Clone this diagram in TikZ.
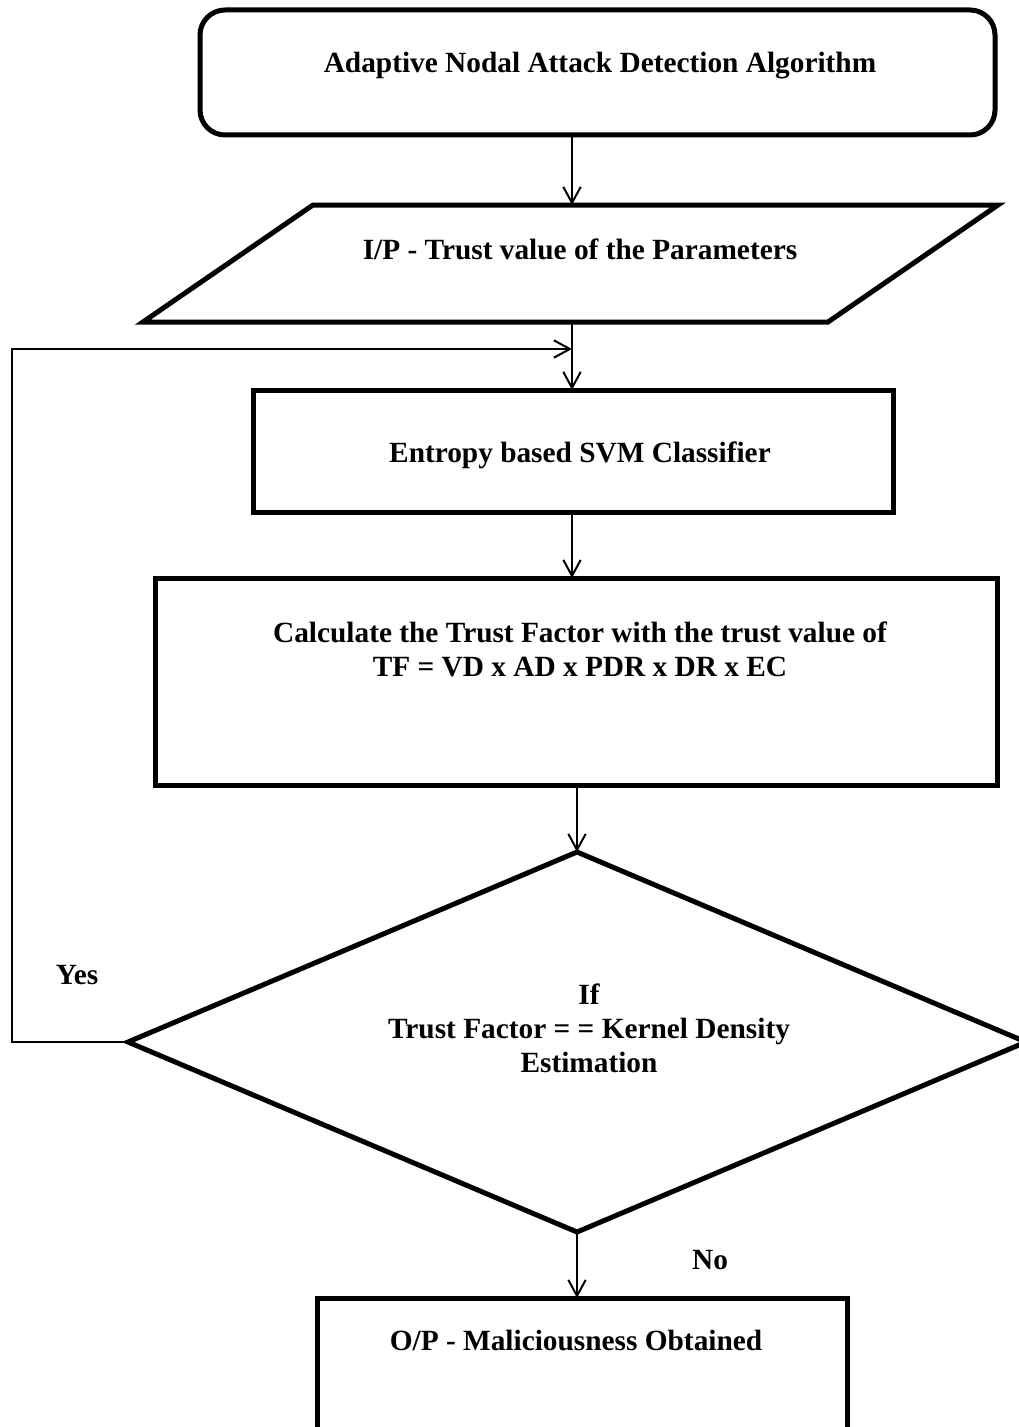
\documentclass[tikz,border=0pt]{standalone}
\usepackage{fontspec}
\setmainfont{Liberation Serif}
\usetikzlibrary{shapes.geometric,arrows.meta}
\begin{document}
\begin{tikzpicture}[x=0.75pt,y=-0.75pt,
  box/.style={draw,line width=3.75pt,inner sep=0pt,outer sep=0pt},
  conn/.style={line width=1.5pt},
  arr/.style={conn,-{Straight Barb[length=12pt,width=13pt,line width=1.5pt]}},
  txt/.style={font=\bfseries\fontsize{22}{25.5}\selectfont,align=center,inner sep=0pt}]
\useasboundingbox (0,0) rectangle (1018,1427);

% shapes
\node[box,rounded corners=18.75pt,minimum width=596.25pt,minimum height=93.75pt] (start) at (597.5,72.5) {};
\node[box,xslant=1.453,transform shape,minimum width=513.75pt,minimum height=87.75pt] (input) at (570.5,263.5) {};
\node[box,minimum width=480pt,minimum height=91.5pt] (svm) at (573,451) {};
\node[box,minimum width=631.5pt,minimum height=155.25pt] (tf) at (576,681.5) {};
\node[box,diamond,aspect=2.36,minimum width=673.5pt,minimum height=285pt] (dec) at (577,1042) {};
\node[box,minimum width=397.5pt,minimum height=110.25pt] (out) at (582,1371.5) {};

% texts
\node[txt] (t1) at (600,66) {Adaptive Nodal Attack Detection Algorithm};
\node[txt] (t2) at (580,249) {I/P - Trust value of the Parameters};
\node[txt] (t3) at (580,455) {Entropy based SVM Classifier};
\node[txt] (t4) at (580,649) {Calculate the Trust Factor with the trust value of\\TF = VD x AD x PDR x DR x EC};
\node[txt] (t5) at (589,1028) {If\\Trust Factor = = Kernel Density\\Estimation};
\node[txt] (t6) at (576,1340) {O/P - Maliciousness Obtained};
\node[txt] (yes) at (77,975) {Yes};
\node[txt] (no) at (710,1260) {No};

% connectors
\coordinate (ax) at (572,0);
\coordinate (join) at (572,349);
\coordinate (loop) at (12,349);
\draw[arr] (start.south -| ax) -- (input.north -| ax);
\draw[arr] (input.south -| ax) -- (svm.north -| ax);
\draw[arr] (dec.west) -| (loop) -- (join);
\draw[arr] (svm.south -| ax) -- (tf.north -| ax);
\draw[arr] (tf.south -| dec.north) -- (dec.north);
\draw[arr] (dec.south) -- (out.north -| dec.south);
\end{tikzpicture}
\end{document}
